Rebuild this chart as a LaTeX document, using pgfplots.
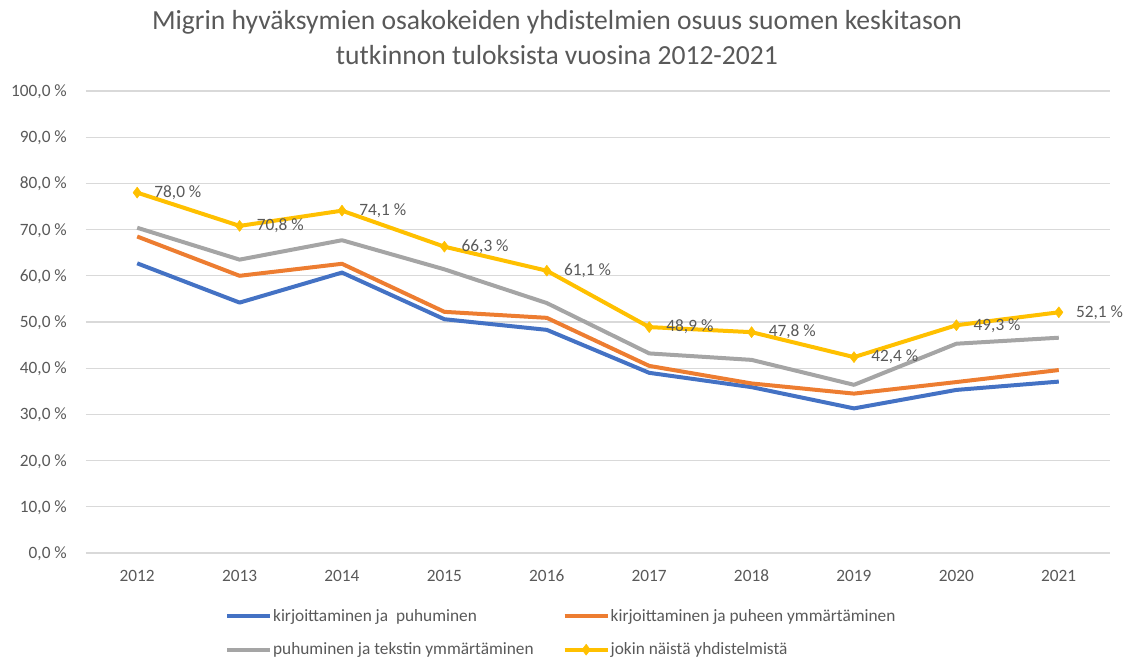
\documentclass[border=0pt]{standalone}
\usepackage{fontspec}
\setmainfont{Carlito}
\usepackage{pgfplots}
\pgfplotsset{compat=1.18}
\definecolor{cblue}{HTML}{4472C4}
\definecolor{corange}{HTML}{ED7D31}
\definecolor{cgray}{HTML}{A5A5A5}
\definecolor{cyellow}{HTML}{FFC000}
\definecolor{textgray}{HTML}{595959}
\definecolor{gridgray}{HTML}{D9D9D9}
\newcommand{\lblfont}{\fontsize{17.3}{20}\selectfont}
\begin{document}
\begin{tikzpicture}
\path[use as bounding box] (-86pt,-106pt) rectangle (1040pt,553pt);
\begin{axis}[
  scale only axis, width=1024pt, height=462pt,
  xmin=2011.5, xmax=2021.5, ymin=0, ymax=100,
  xtick={2012,...,2021}, ytick={0,10,...,100},
  axis line style={draw=none}, tick style={draw=none},
  ymajorgrids, grid style={draw=gridgray, line width=1.3pt},
  clip=false,
  /pgf/number format/assume math mode=true,
  /pgf/number format/1000 sep={},
  ticklabel style={font=\lblfont, text=textgray, inner sep=0pt},
  xticklabel style={anchor=base, yshift=-28.5pt},
  yticklabel style={anchor=base east, xshift=-19pt, yshift=-5.5pt},
  yticklabel={\pgfmathprintnumber[fixed,fixed zerofill,precision=1,use comma]{\tick}~\%},
  legend columns=2,
  legend cell align=left,
  legend style={at={(0.1357,-0.1195)}, anchor=north west, draw=none, fill=none,
    font=\lblfont, text=textgray, inner sep=0pt, nodes={inner sep=1pt},
    row sep=18pt,
    /tikz/every even column/.append style={column sep=28pt}},
  legend image code/.code={\draw[mark repeat=2,mark phase=2,#1] plot coordinates {(0pt,0pt) (21.5pt,0pt) (43pt,0pt)};},
  every axis plot/.append style={line width=4pt, line join=round},
]
\addplot[cblue, no marks] coordinates {
 (2012,62.7) (2013,54.2) (2014,60.7) (2015,50.6) (2016,48.3)
 (2017,39.0) (2018,35.9) (2019,31.3) (2020,35.3) (2021,37.1)};
\addlegendentry{kirjoittaminen ja\ \ puhuminen}
\addplot[corange, no marks] coordinates {
 (2012,68.5) (2013,60.0) (2014,62.6) (2015,52.2) (2016,50.9)
 (2017,40.5) (2018,36.7) (2019,34.5) (2020,37.0) (2021,39.6)};
\addlegendentry{kirjoittaminen ja puheen ymmärtäminen}
\addplot[cgray, no marks] coordinates {
 (2012,70.4) (2013,63.5) (2014,67.7) (2015,61.4) (2016,54.1)
 (2017,43.2) (2018,41.8) (2019,36.4) (2020,45.3) (2021,46.6)};
\addlegendentry{puhuminen ja tekstin ymmärtäminen}
\addplot[cyellow, mark=diamond*, mark size=5.5pt, mark options={solid, line width=0.5pt},
  point meta=y,
  nodes near coords={\pgfmathprintnumber[fixed,fixed zerofill,precision=1,use comma]{\pgfplotspointmeta}~\%},
  every node near coord/.append style={anchor=west, xshift=17pt, inner sep=0pt, text=textgray, font=\lblfont}]
 coordinates {
 (2012,78.0) (2013,70.8) (2014,74.1) (2015,66.3) (2016,61.1)
 (2017,48.9) (2018,47.8) (2019,42.4) (2020,49.3) (2021,52.1)};
\addlegendentry{jokin näistä yhdistelmistä}
\end{axis}
\node[align=center, text=textgray, font=\fontsize{27.6}{35}\selectfont] at (471pt,515.5pt)
 {Migrin hyväksymien osakokeiden yhdistelmien osuus suomen keskitason\\tutkinnon tuloksista vuosina 2012-2021};
\end{tikzpicture}
\end{document}
